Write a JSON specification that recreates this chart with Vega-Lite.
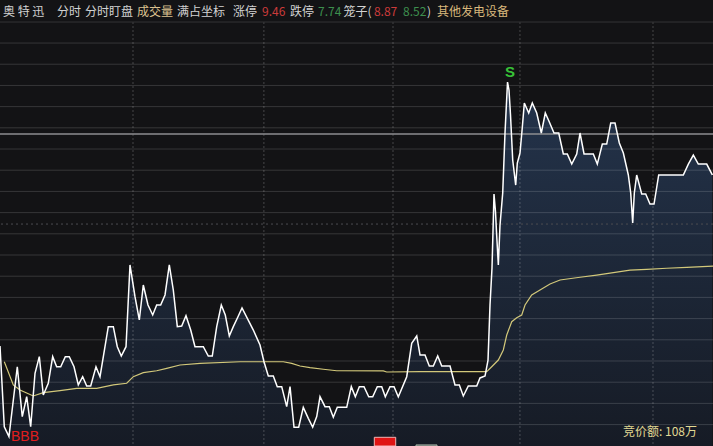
{
  "$schema": "https://vega.github.io/schema/vega-lite/v6.json",
  "width": 713,
  "height": 446,
  "padding": 0,
  "autosize": "none",
  "background": "#131315",
  "config": {"view": {"stroke": null}, "text": {"font": "Noto Sans CJK SC", "fontSize": 12, "align": "left", "baseline": "middle"}},
  "datasets": {
    "price": [
      {"t": -0.69, "p": 8.5142}, {"t": 0.30, "p": 8.4380}, {"t": 1.38, "p": 8.4286}, {"t": 3.30, "p": 8.4946},
      {"t": 4.45, "p": 8.4475}, {"t": 5.47, "p": 8.4663}, {"t": 6.39, "p": 8.4380}, {"t": 7.39, "p": 8.4884},
      {"t": 8.38, "p": 8.5041}, {"t": 9.30, "p": 8.4679}, {"t": 10.45, "p": 8.4790}, {"t": 11.47, "p": 8.5041},
      {"t": 12.39, "p": 8.4946}, {"t": 13.32, "p": 8.4946}, {"t": 14.38, "p": 8.5041}, {"t": 15.30, "p": 8.5041},
      {"t": 16.39, "p": 8.4946}, {"t": 17.38, "p": 8.4774}, {"t": 18.39, "p": 8.4852}, {"t": 19.32, "p": 8.4764},
      {"t": 20.24, "p": 8.4764}, {"t": 21.46, "p": 8.4946}, {"t": 22.39, "p": 8.4852}, {"t": 24.30, "p": 8.5324},
      {"t": 25.46, "p": 8.5324}, {"t": 26.38, "p": 8.5135}, {"t": 27.30, "p": 8.5047}, {"t": 28.39, "p": 8.5135},
      {"t": 29.31, "p": 8.5906}, {"t": 30.46, "p": 8.5607}, {"t": 31.46, "p": 8.5387}, {"t": 32.38, "p": 8.5717},
      {"t": 33.46, "p": 8.5528}, {"t": 34.55, "p": 8.5434}, {"t": 35.47, "p": 8.5528}, {"t": 36.39, "p": 8.5528},
      {"t": 37.39, "p": 8.5623}, {"t": 38.38, "p": 8.5906}, {"t": 39.30, "p": 8.5670}, {"t": 40.23, "p": 8.5324},
      {"t": 41.24, "p": 8.5330}, {"t": 42.23, "p": 8.5427}, {"t": 43.32, "p": 8.5292}, {"t": 44.31, "p": 8.5135},
      {"t": 46.23, "p": 8.5135}, {"t": 47.38, "p": 8.5047}, {"t": 48.30, "p": 8.5047}, {"t": 49.32, "p": 8.5324},
      {"t": 50.38, "p": 8.5528}, {"t": 51.30, "p": 8.5434}, {"t": 52.23, "p": 8.5236}, {"t": 53.15, "p": 8.5324},
      {"t": 54.23, "p": 8.5418}, {"t": 55.16, "p": 8.5500}, {"t": 57.77, "p": 8.5292}, {"t": 59.31, "p": 8.5151},
      {"t": 60.23, "p": 8.4993}, {"t": 61.23, "p": 8.4858}, {"t": 62.38, "p": 8.4858}, {"t": 63.30, "p": 8.4758},
      {"t": 64.32, "p": 8.4758}, {"t": 65.47, "p": 8.4569}, {"t": 66.24, "p": 8.4758}, {"t": 67.16, "p": 8.4375},
      {"t": 68.24, "p": 8.4375}, {"t": 69.30, "p": 8.4563}, {"t": 70.46, "p": 8.4459}, {"t": 71.47, "p": 8.4375},
      {"t": 72.40, "p": 8.4475}, {"t": 73.16, "p": 8.4663}, {"t": 74.31, "p": 8.4569}, {"t": 75.31, "p": 8.4569},
      {"t": 76.23, "p": 8.4469}, {"t": 77.15, "p": 8.4563}, {"t": 79.32, "p": 8.4563}, {"t": 80.38, "p": 8.4758},
      {"t": 81.31, "p": 8.4663}, {"t": 82.23, "p": 8.4758}, {"t": 83.31, "p": 8.4758}, {"t": 84.40, "p": 8.4663},
      {"t": 85.32, "p": 8.4663}, {"t": 86.38, "p": 8.4758}, {"t": 87.40, "p": 8.4758}, {"t": 88.23, "p": 8.4663},
      {"t": 89.31, "p": 8.4758}, {"t": 90.24, "p": 8.4758}, {"t": 91.23, "p": 8.4663}, {"t": 93.17, "p": 8.4852},
      {"t": 94.32, "p": 8.5167}, {"t": 95.48, "p": 8.5236}, {"t": 96.24, "p": 8.5057}, {"t": 97.39, "p": 8.5057},
      {"t": 98.38, "p": 8.4953}, {"t": 99.31, "p": 8.4953}, {"t": 100.32, "p": 8.5047}, {"t": 101.25, "p": 8.4953},
      {"t": 103.16, "p": 8.4953}, {"t": 104.31, "p": 8.4774}, {"t": 105.31, "p": 8.4774}, {"t": 106.23, "p": 8.4670},
      {"t": 107.38, "p": 8.4764}, {"t": 109.32, "p": 8.4764}, {"t": 110.08, "p": 8.4840}, {"t": 111.24, "p": 8.4858},
      {"t": 111.93, "p": 8.5009}, {"t": 112.39, "p": 8.5528}, {"t": 112.85, "p": 8.5877}, {"t": 113.31, "p": 8.6575},
      {"t": 113.66, "p": 8.6406}, {"t": 113.89, "p": 8.6217}, {"t": 114.31, "p": 8.5906}, {"t": 114.70, "p": 8.6283},
      {"t": 115.32, "p": 8.6585}, {"t": 115.85, "p": 8.7151}, {"t": 116.43, "p": 8.7632}, {"t": 116.77, "p": 8.7557},
      {"t": 117.12, "p": 8.7321}, {"t": 117.63, "p": 8.6896}, {"t": 118.32, "p": 8.6660}, {"t": 118.69, "p": 8.6868},
      {"t": 119.31, "p": 8.6962}, {"t": 119.85, "p": 8.7208}, {"t": 120.31, "p": 8.7434}, {"t": 121.32, "p": 8.7340},
      {"t": 122.15, "p": 8.7434}, {"t": 123.17, "p": 8.7340}, {"t": 124.23, "p": 8.7151}, {"t": 125.15, "p": 8.7340},
      {"t": 126.08, "p": 8.7255}, {"t": 127.16, "p": 8.7151}, {"t": 128.25, "p": 8.7151}, {"t": 129.31, "p": 8.6953},
      {"t": 130.23, "p": 8.6953}, {"t": 131.25, "p": 8.6858}, {"t": 132.40, "p": 8.6953}, {"t": 133.16, "p": 8.7151},
      {"t": 134.09, "p": 8.6953}, {"t": 136.23, "p": 8.6953}, {"t": 137.15, "p": 8.6858}, {"t": 138.31, "p": 8.7047},
      {"t": 139.32, "p": 8.7047}, {"t": 140.25, "p": 8.7245}, {"t": 141.24, "p": 8.7245}, {"t": 142.23, "p": 8.7057},
      {"t": 143.16, "p": 8.6962}, {"t": 144.31, "p": 8.6755}, {"t": 144.86, "p": 8.6585}, {"t": 145.32, "p": 8.6302},
      {"t": 145.69, "p": 8.6585}, {"t": 146.24, "p": 8.6755}, {"t": 147.40, "p": 8.6575}, {"t": 148.32, "p": 8.6575},
      {"t": 149.31, "p": 8.6481}, {"t": 150.24, "p": 8.6481}, {"t": 151.32, "p": 8.6755}, {"t": 157.00, "p": 8.6755},
      {"t": 158.16, "p": 8.6858}, {"t": 159.31, "p": 8.6943}, {"t": 160.46, "p": 8.6858}, {"t": 162.40, "p": 8.6858},
      {"t": 163.70, "p": 8.6755}
    ],
    "avg": [
      {"t": 0.30, "p": 8.4993}, {"t": 2.38, "p": 8.4774}, {"t": 3.92, "p": 8.4726}, {"t": 6.99, "p": 8.4670},
      {"t": 9.30, "p": 8.4701}, {"t": 13.15, "p": 8.4720}, {"t": 17.01, "p": 8.4742}, {"t": 21.62, "p": 8.4742},
      {"t": 25.46, "p": 8.4774}, {"t": 28.55, "p": 8.4790}, {"t": 30.07, "p": 8.4852}, {"t": 32.38, "p": 8.4890},
      {"t": 35.47, "p": 8.4908}, {"t": 37.78, "p": 8.4931}, {"t": 40.85, "p": 8.4962}, {"t": 45.46, "p": 8.4978},
      {"t": 54.70, "p": 8.4993}, {"t": 64.69, "p": 8.4993}, {"t": 66.63, "p": 8.4978}, {"t": 68.54, "p": 8.4953},
      {"t": 70.85, "p": 8.4937}, {"t": 73.92, "p": 8.4922}, {"t": 77.01, "p": 8.4908}, {"t": 87.77, "p": 8.4906},
      {"t": 88.55, "p": 8.4896}, {"t": 96.24, "p": 8.4899}, {"t": 110.08, "p": 8.4899}, {"t": 111.63, "p": 8.4899},
      {"t": 112.78, "p": 8.4946}, {"t": 114.31, "p": 8.5009}, {"t": 115.46, "p": 8.5104}, {"t": 116.25, "p": 8.5245},
      {"t": 117.40, "p": 8.5371}, {"t": 118.55, "p": 8.5408}, {"t": 119.71, "p": 8.5434}, {"t": 120.47, "p": 8.5528},
      {"t": 122.01, "p": 8.5623}, {"t": 123.93, "p": 8.5670}, {"t": 126.24, "p": 8.5726}, {"t": 128.55, "p": 8.5764},
      {"t": 133.16, "p": 8.5790}, {"t": 137.01, "p": 8.5811}, {"t": 140.85, "p": 8.5833}, {"t": 144.70, "p": 8.5858},
      {"t": 148.55, "p": 8.5865}, {"t": 153.17, "p": 8.5875}, {"t": 157.79, "p": 8.5884}, {"t": 163.85, "p": 8.5896}
    ],
    "hgrid": [
      {"p": 8.80}, {"p": 8.78}, {"p": 8.76}, {"p": 8.74}, {"p": 8.72}, {"p": 8.70}, {"p": 8.68}, {"p": 8.66},
      {"p": 8.64}, {"p": 8.62}, {"p": 8.60}, {"p": 8.58}, {"p": 8.56}, {"p": 8.54}, {"p": 8.52}, {"p": 8.50},
      {"p": 8.48}, {"p": 8.46}, {"p": 8.44}
    ],
    "vgrid": [{"t": 30}, {"t": 60.2}, {"t": 90}, {"t": 119.3}, {"t": 150}],
    "bars": [
      {"t0": 85.69, "t1": 90.63, "top": 8.4280, "dir": "up"},
      {"t0": 95.31, "t1": 100.16, "top": 8.4208, "dir": "down"}
    ],
    "signals": [
      {"t": 117.0, "p": 8.7726, "sig": "S"},
      {"t": 5.08, "p": 8.4283, "sig": "BBB"}
    ]
  },
  "layer": [
    {
      "data": {"name": "price"},
      "mark": {"type": "area", "interpolate": "linear", "color": {"gradient": "linear", "x1": 0, "y1": 0, "x2": 0, "y2": 1, "stops": [{"offset": 0, "color": "#24344c"}, {"offset": 1, "color": "#161b25"}]}},
      "encoding": {
        "x": {"field": "t", "type": "quantitative", "scale": {"domain": [-0.69, 163.85], "nice": false, "zero": false}, "axis": null},
        "y": {"field": "p", "type": "quantitative", "scale": {"domain": [8.4198, 8.8406], "nice": false, "zero": false}, "axis": null},
        "y2": {"datum": 8.4198}
      }
    },
    {
      "data": {"name": "hgrid"},
      "mark": {"type": "rule", "color": "#ffffff", "opacity": 0.15, "strokeWidth": 1},
      "encoding": {"y": {"field": "p", "type": "quantitative"}}
    },
    {
      "data": {"name": "vgrid"},
      "mark": {"type": "rule", "color": "#ffffff", "opacity": 0.18, "strokeWidth": 1.2, "strokeDash": [2, 2]},
      "encoding": {"x": {"field": "t", "type": "quantitative"}, "y": {"datum": 8.8198}, "y2": {"datum": 8.4198}}
    },
    {
      "data": {"values": [{"p": 8.8198}]},
      "mark": {"type": "rule", "color": "#343436", "strokeWidth": 1},
      "encoding": {"y": {"field": "p", "type": "quantitative"}}
    },
    {
      "data": {"values": [{"p": 8.7142}]},
      "mark": {"type": "rule", "color": "#8e8e90", "strokeWidth": 1.5},
      "encoding": {"y": {"field": "p", "type": "quantitative"}}
    },
    {
      "data": {"values": [{"p": 8.6292}]},
      "mark": {"type": "rule", "color": "#4c4c50", "strokeWidth": 1, "strokeDash": [2, 3]},
      "encoding": {"y": {"field": "p", "type": "quantitative"}}
    },
    {
      "data": {"name": "avg"},
      "mark": {"type": "line", "color": "#d2c87a", "strokeWidth": 1.2, "interpolate": "linear"},
      "encoding": {"x": {"field": "t", "type": "quantitative"}, "y": {"field": "p", "type": "quantitative"}}
    },
    {
      "data": {"name": "price"},
      "mark": {"type": "line", "color": "#ffffff", "strokeWidth": 1.5, "interpolate": "linear"},
      "encoding": {"x": {"field": "t", "type": "quantitative"}, "y": {"field": "p", "type": "quantitative"}}
    },
    {
      "data": {"name": "bars"},
      "mark": {"type": "rect", "strokeWidth": 1},
      "encoding": {
        "x": {"field": "t0", "type": "quantitative"},
        "x2": {"field": "t1"},
        "y": {"field": "top", "type": "quantitative"},
        "y2": {"datum": 8.4198},
        "fill": {"field": "dir", "type": "nominal", "scale": {"domain": ["up", "down"], "range": ["#e01414", "#1a1e24"]}, "legend": null},
        "stroke": {"field": "dir", "type": "nominal", "scale": {"domain": ["up", "down"], "range": ["#f0b4b4", "#a9b8a9"]}, "legend": null}
      }
    },
    {
      "data": {"name": "signals"},
      "transform": [{"filter": "datum.sig == 'S'"}],
      "mark": {"type": "text", "font": "Liberation Sans", "fontSize": 15, "fontWeight": "bold", "color": "#38c238", "align": "center"},
      "encoding": {"x": {"field": "t", "type": "quantitative"}, "y": {"field": "p", "type": "quantitative"}, "text": {"field": "sig"}}
    },
    {
      "data": {"name": "signals"},
      "transform": [{"filter": "datum.sig == 'BBB'"}],
      "mark": {"type": "text", "font": "Liberation Sans", "fontSize": 14, "color": "#e01e1e", "align": "center"},
      "encoding": {"x": {"field": "t", "type": "quantitative"}, "y": {"field": "p", "type": "quantitative"}, "text": {"field": "sig"}}
    },
    {
      "data": {"values": [{"label": "竞价额: 108万"}]},
      "mark": {"type": "text", "color": "#e2d994"},
      "encoding": {"x": {"datum": 143.08, "type": "quantitative"}, "y": {"datum": 8.4330, "type": "quantitative"}, "text": {"field": "label"}}
    },
    {
      "data": {"values": [{"label": "奥 特 迅"}]},
      "mark": {"type": "text", "color": "#d2d2d2"},
      "encoding": {"x": {"datum": 0, "type": "quantitative"}, "y": {"datum": 8.8292, "type": "quantitative"}, "text": {"field": "label"}}
    },
    {
      "data": {"values": [{"label": "分时"}]},
      "mark": {"type": "text", "color": "#d2d2d2"},
      "encoding": {"x": {"datum": 12.46, "type": "quantitative"}, "y": {"datum": 8.8292, "type": "quantitative"}, "text": {"field": "label"}}
    },
    {
      "data": {"values": [{"label": "分时盯盘"}]},
      "mark": {"type": "text", "color": "#d2d2d2"},
      "encoding": {"x": {"datum": 18.92, "type": "quantitative"}, "y": {"datum": 8.8292, "type": "quantitative"}, "text": {"field": "label"}}
    },
    {
      "data": {"values": [{"label": "成交量"}]},
      "mark": {"type": "text", "color": "#dcc290"},
      "encoding": {"x": {"datum": 30.93, "type": "quantitative"}, "y": {"datum": 8.8292, "type": "quantitative"}, "text": {"field": "label"}}
    },
    {
      "data": {"values": [{"label": "满占坐标"}]},
      "mark": {"type": "text", "color": "#d2d2d2"},
      "encoding": {"x": {"datum": 40.16, "type": "quantitative"}, "y": {"datum": 8.8292, "type": "quantitative"}, "text": {"field": "label"}}
    },
    {
      "data": {"values": [{"label": "涨停"}]},
      "mark": {"type": "text", "color": "#d2d2d2"},
      "encoding": {"x": {"datum": 53.08, "type": "quantitative"}, "y": {"datum": 8.8292, "type": "quantitative"}, "text": {"field": "label"}}
    },
    {
      "data": {"values": [{"label": "9.46"}]},
      "mark": {"type": "text", "color": "#cc3b3b"},
      "encoding": {"x": {"datum": 59.77, "type": "quantitative"}, "y": {"datum": 8.8292, "type": "quantitative"}, "text": {"field": "label"}}
    },
    {
      "data": {"values": [{"label": "跌停"}]},
      "mark": {"type": "text", "color": "#d2d2d2"},
      "encoding": {"x": {"datum": 66.24, "type": "quantitative"}, "y": {"datum": 8.8292, "type": "quantitative"}, "text": {"field": "label"}}
    },
    {
      "data": {"values": [{"label": "7.74"}]},
      "mark": {"type": "text", "color": "#3d8f4e"},
      "encoding": {"x": {"datum": 72.70, "type": "quantitative"}, "y": {"datum": 8.8292, "type": "quantitative"}, "text": {"field": "label"}}
    },
    {
      "data": {"values": [{"label": "笼子("}]},
      "mark": {"type": "text", "color": "#d2d2d2"},
      "encoding": {"x": {"datum": 78.6, "type": "quantitative"}, "y": {"datum": 8.8292, "type": "quantitative"}, "text": {"field": "label"}}
    },
    {
      "data": {"values": [{"label": "8.87"}]},
      "mark": {"type": "text", "color": "#cc3b3b"},
      "encoding": {"x": {"datum": 85.6, "type": "quantitative"}, "y": {"datum": 8.8292, "type": "quantitative"}, "text": {"field": "label"}}
    },
    {
      "data": {"values": [{"label": "8.52"}]},
      "mark": {"type": "text", "color": "#3d8f4e"},
      "encoding": {"x": {"datum": 92.31, "type": "quantitative"}, "y": {"datum": 8.8292, "type": "quantitative"}, "text": {"field": "label"}}
    },
    {
      "data": {"values": [{"label": ")"}]},
      "mark": {"type": "text", "color": "#d2d2d2"},
      "encoding": {"x": {"datum": 97.85, "type": "quantitative"}, "y": {"datum": 8.8292, "type": "quantitative"}, "text": {"field": "label"}}
    },
    {
      "data": {"values": [{"label": "其他发电设备"}]},
      "mark": {"type": "text", "color": "#d8b87c"},
      "encoding": {"x": {"datum": 100.16, "type": "quantitative"}, "y": {"datum": 8.8292, "type": "quantitative"}, "text": {"field": "label"}}
    }
  ]
}
